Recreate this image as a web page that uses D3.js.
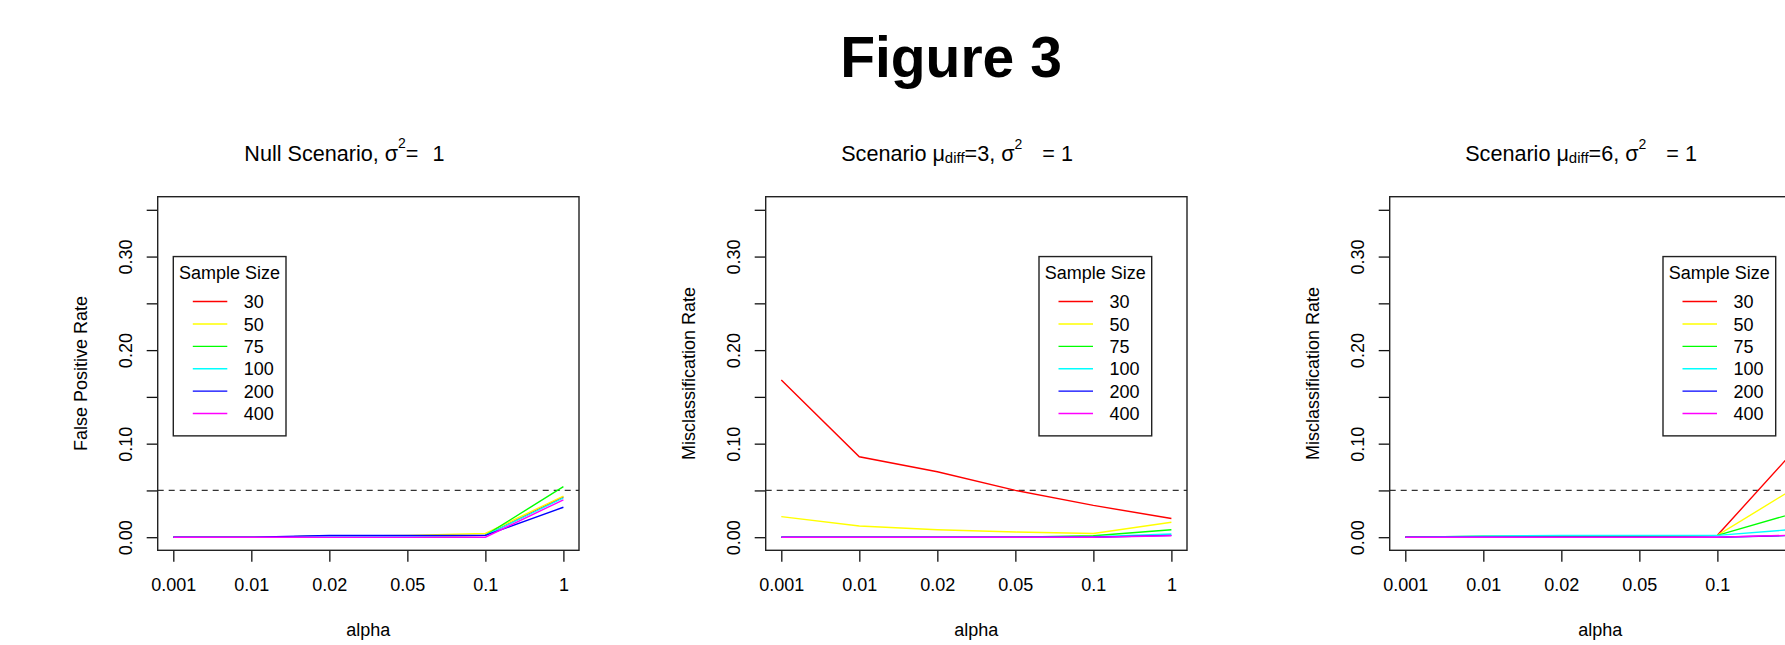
<!DOCTYPE html>
<html>
<head>
<meta charset="utf-8">
<script src="https://cdn.jsdelivr.net/npm/d3@7"></script>
<style>
  body { margin: 0; background: #fff; }
  svg { display: block; font-family: "Liberation Sans", Arial, Helvetica, sans-serif; }
</style>
</head>
<body>
<svg id="fig" width="1785" height="645"></svg>
<script>
// data
const alphaLabels = ["0.001", "0.01", "0.02", "0.05", "0.1", "1"];
const sampleSizes = [30, 50, 75, 100, 200, 400];
const lineColors = ["#FF0000", "#FFFF00", "#00FF00", "#00FFFF", "#0000FF", "#FF00FF"];
const yTicks = [0, 0.05, 0.10, 0.15, 0.20, 0.25, 0.30, 0.35];
const yLabelled = [0, 0.10, 0.20, 0.30];

// one row per sample size, one value per alpha
const nullRates = [
    [0, 0, 0.001, 0.001, 0.002, 0.043],
    [0, 0, 0.001, 0.002, 0.004, 0.044],
    [0, 0, 0.001, 0.001, 0.002, 0.054],
    [0, 0, 0.001, 0.001, 0.002, 0.042],
    [0, 0, 0.002, 0.002, 0.002, 0.032],
    [0, 0, 0, 0, 0, 0.040]
];
const diff3Rates = [
    [0.168, 0.086, 0.070, 0.050, 0.034, 0.020],
    [0.022, 0.012, 0.008, 0.0055, 0.004, 0.016],
    [0, 0, 0, 0, 0.0015, 0.008],
    [0, 0, 0, 0, 0.0005, 0.0035],
    [0, 0, 0, 0, 0, 0.002],
    [0, 0, 0, 0, 0, 0.0015]
];
const diff6Rates = [
    [0, 0, 0.001, 0.001, 0.002, 0.094],
    [0, 0, 0.001, 0.001, 0.002, 0.053],
    [0, 0.001, 0.001, 0.001, 0.002, 0.026],
    [0, 0.001, 0.002, 0.002, 0.002, 0.0085],
    [0, 0, 0, 0, 0, 0.002],
    [0, 0, 0, 0, 0, 0.0022]
];

const svg = d3.select("#fig");
svg.append("rect").attr("width", 1785).attr("height", 645).attr("fill", "#fff");

svg.append("text")
    .attr("x", 951).attr("y", 77)
    .attr("text-anchor", "middle")
    .style("font-size", "57px").style("font-weight", "bold")
    .text("Figure 3");

const W = 421.3, TOP = 196.7, BOTTOM = 550.3;

const panels = [
    { left: 157.7, rates: nullRates, ylab: "False Positive Rate", legendX: 15.6, title: "null" },
    { left: 765.7, rates: diff3Rates, ylab: "Misclassification Rate", legendX: 273.3, title: "3" },
    { left: 1389.7, rates: diff6Rates, ylab: "Misclassification Rate", legendX: 273.3, title: "6" }
];

const drawPanel = function (p) {
    const x = d3.scaleLinear().domain([0.8, 6.2]).range([p.left, p.left + W]);
    const y = d3.scaleLinear().domain([-0.014, 0.364]).range([BOTTOM, TOP]);
    const g = svg.append("g");

    // title (plotmath-like pieces)
    const t = g.append("text")
        .attr("y", 160.5)
        .style("font-size", "21.6px");
    if (p.title === "null") {
        t.attr("x", p.left + 86.6);
        t.append("tspan").text("Null Scenario, σ");
        t.append("tspan").attr("dy", -13).style("font-size", "14px").text("2");
        t.append("tspan").attr("dy", 13).text("=");
        t.append("tspan").attr("dx", 14).text("1");
    } else {
        t.attr("x", p.left + 75.5);
        t.append("tspan").text("Scenario μ");
        t.append("tspan").attr("dy", 2.5).style("font-size", "15px").text("diff");
        t.append("tspan").attr("dy", -2.5).text("=" + p.title + ", σ");
        t.append("tspan").attr("dy", -12).style("font-size", "14px").text("2");
        t.append("tspan").attr("dy", 12).attr("dx", 20).text("= 1");
    }

    // axes
    const yAxis = g.append("g")
        .attr("transform", "translate(" + p.left + ",0)")
        .call(d3.axisLeft(y).tickValues(yTicks).tickSize(11).tickSizeOuter(0)
            .tickFormat(d => yLabelled.some(v => Math.abs(v - d) < 1e-9) ? d3.format(".2f")(d) : ""));
    yAxis.selectAll("text")
        .attr("x", 0).attr("y", -26).attr("dy", null)
        .attr("text-anchor", "middle")
        .attr("transform", "rotate(-90)")
        .style("font-size", "18px").attr("fill", "#000");
    yAxis.select(".domain").remove();
    yAxis.selectAll("line").attr("stroke", "#111").attr("stroke-width", 1.3);

    const xAxis = g.append("g")
        .attr("transform", "translate(0," + BOTTOM + ")")
        .call(d3.axisBottom(x).tickValues([1, 2, 3, 4, 5, 6]).tickSize(11.4).tickSizeOuter(0)
            .tickPadding(17).tickFormat((d, i) => alphaLabels[i]));
    xAxis.selectAll("text").style("font-size", "18px").attr("fill", "#000");
    xAxis.select(".domain").remove();
    xAxis.selectAll("line").attr("stroke", "#111").attr("stroke-width", 1.3);

    // reference line at 0.05
    g.append("line")
        .attr("x1", p.left).attr("x2", p.left + W)
        .attr("y1", y(0.05)).attr("y2", y(0.05))
        .attr("stroke", "#333").attr("stroke-width", 1.3)
        .attr("stroke-dasharray", "6,5");

    // series
    const line = d3.line().x((d, i) => x(i + 1)).y(d => y(d));
    p.rates.forEach(function (row, k) {
        g.append("path")
            .attr("d", line(row))
            .attr("fill", "none")
            .attr("stroke", lineColors[k])
            .attr("stroke-width", 1.4);
    });

    // frame
    g.append("rect")
        .attr("x", p.left).attr("y", TOP)
        .attr("width", W).attr("height", BOTTOM - TOP)
        .attr("fill", "none").attr("stroke", "#222").attr("stroke-width", 1.4);

    // axis titles
    g.append("text")
        .attr("x", (p.left + p.left + W) / 2).attr("y", 636)
        .attr("text-anchor", "middle").style("font-size", "18px")
        .text("alpha");
    g.append("text")
        .attr("transform", "translate(" + (p.left - 70.5) + "," + ((TOP + BOTTOM) / 2) + ") rotate(-90)")
        .attr("text-anchor", "middle").style("font-size", "18px")
        .text(p.ylab);

    // legend
    const lx = p.left + p.legendX, ly = y(0.30);
    const leg = g.append("g").attr("transform", "translate(" + lx + "," + ly + ")");
    leg.append("rect")
        .attr("width", 112.7).attr("height", 179.3)
        .attr("fill", "#fff").attr("stroke", "#222").attr("stroke-width", 1.4);
    leg.append("text")
        .attr("x", 56.3).attr("y", 22.6)
        .attr("text-anchor", "middle").style("font-size", "18px")
        .text("Sample Size");
    sampleSizes.forEach(function (s, k) {
        const ry = 45 + k * 22.4;
        leg.append("line")
            .attr("x1", 19.5).attr("x2", 54)
            .attr("y1", ry).attr("y2", ry)
            .attr("stroke", lineColors[k]).attr("stroke-width", 1.4);
        leg.append("text")
            .attr("x", 70.5).attr("y", ry + 6.6)
            .style("font-size", "18px")
            .text(s);
    });
};

panels.forEach(drawPanel);
</script>
</body>
</html>
